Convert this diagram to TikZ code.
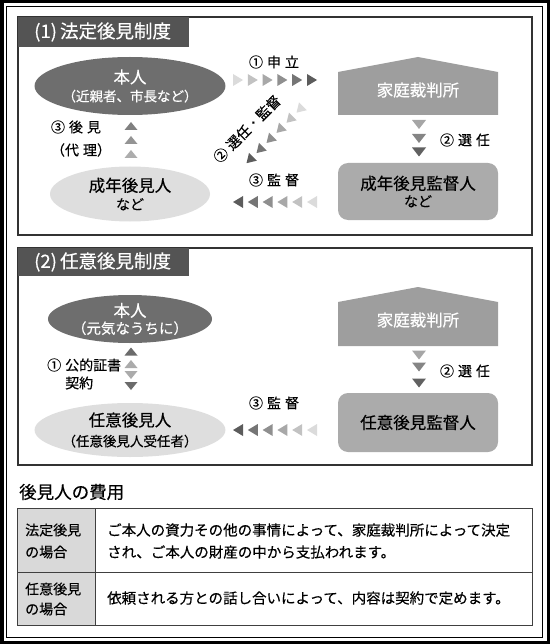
\documentclass[tikz,border=0pt]{standalone}
\usepackage{fontspec}
\setmainfont{Noto Sans CJK JP}[FakeBold=0.35]
\usetikzlibrary{shapes.geometric}
\newcommand{\lue}{\hspace{4pt}}

\begin{document}
\begin{tikzpicture}[x=1pt,y=-1pt,
    rahmen/.style={draw=black!80, line width=1.1pt},
    reiter/.style={text=white, anchor=west, inner sep=0pt, font=\fontsize{18.5}{20}\selectfont},
    person/.style={ellipse, minimum width=160pt, inner sep=0pt, align=center},
    gericht/.style={text=white, inner sep=0pt, font=\fontsize{16.5}{18}\selectfont},
    aufsicht/.style={rounded corners=10pt, fill=black!33, minimum width=160pt, align=center, inner sep=0pt},
    beschr/.style={inner sep=0pt, font=\fontsize{14}{16}\selectfont},
    tabtext/.style={anchor=west, align=left, inner sep=0pt, font=\fontsize{14.5}{22}\selectfont}]
    \useasboundingbox (0,0) rectangle (550,644);
    % Rahmen:
    \draw[line width=3.5pt] (1.75,1.75) rectangle (548.25,642.25);
    \draw[line width=0.9pt] (6.5,6.5) rectangle (542.5,637.5);

    % (1) Abschnitt:
    \draw[rahmen] (18,17) rectangle (532,235);
    \fill[black!67] (18,17) rectangle (189,47);
    \node[reiter] (titel1) at (34,32) {(1)\,法定後見制度};
    \node[person, fill=black!57, text=white, minimum height=58pt,
        font=\fontsize{13.5}{18}\selectfont] (honin1) at (130,86)
        {{\fontsize{16.5}{18}\selectfont 本人}\\（近親者、市長など）};
    \node[person, fill=black!13, minimum height=55pt,
        font=\fontsize{14}{18}\selectfont] (kouken1) at (130,194)
        {{\fontsize{16.5}{18}\selectfont 成年後見人}\\など};
    \fill[black!38] (338,72) -- (418,57) -- (498,72) -- (498,115) -- (338,115) -- cycle;
    \node[gericht] (gericht1) at (418,90) {家庭裁判所};
    \node[aufsicht, minimum height=57pt, font=\fontsize{14}{17}\selectfont]
        (aufsicht1) at (418,191.5) {{\fontsize{16.5}{17}\selectfont 成年後見監督人}\\など};

    \node[beschr] (l1a) at (76,127) {③\lue 後\lue 見};
    \node[beschr] (l1b) at (81,150) {（代\lue 理）};
    \node[beschr] (l1c) at (274,62) {①\lue 申\lue 立};
    \node[beschr, rotate=45] (l1d) at (247,129) {②\lue 選任・監督};
    \node[beschr] (l1e) at (274,180) {③\lue 監\lue 督};
    \node[beschr] (l1f) at (465,140) {②\lue 選\lue 任};

    % Dreiecke:
    \foreach \i/\g in {0/14,1/24,2/34,3/44,4/54,5/64}
        \fill[black!\g] ({238+14.8*\i},80) ++(5,0) -- ++(-10,6) -- ++(0,-12) -- cycle;
    \foreach \i/\g in {0/64,1/54,2/44,3/34,4/24,5/14}
        \fill[black!\g] ({238+14.8*\i},202) ++(-5,0) -- ++(10,6) -- ++(0,-12) -- cycle;
    \foreach \i/\g in {0/64,1/54,2/44,3/34,4/24,5/14}
        \fill[black!\g, shift={({249.7+10*\i},{160-10.1*\i})}, rotate=225]
            (4.5,0) -- (-4.5,5.5) -- (-4.5,-5.5) -- cycle;
    \foreach \y/\g in {126/50,140/42,154/32}
        \fill[black!\g] (131,\y) ++(0,-4) -- ++(6.5,8) -- ++(-13,0) -- cycle;
    \foreach \y/\g in {124.5/35,138.5/48,152/62}
        \fill[black!\g] (419,\y) ++(0,4.5) -- ++(7,-9) -- ++(-14,0) -- cycle;

    % (2) Abschnitt:
    \draw[rahmen] (18,248) rectangle (532,465);
    \fill[black!67] (18,248) rectangle (189,276);
    \node[reiter] (titel2) at (34,262) {(2)\,任意後見制度};
    \node[person, fill=black!57, text=white, minimum height=48pt,
        font=\fontsize{14.5}{17}\selectfont] (honin2) at (130,319)
        {{\fontsize{16.5}{17}\selectfont 本人}\\（元気なうちに）};
    \node[person, fill=black!13, minimum height=54pt,
        font=\fontsize{13.5}{20}\selectfont] (ninni2) at (130,430)
        {{\fontsize{16.5}{20}\selectfont 任意後見人}\\（任意後見人受任者）};
    \fill[black!38] (338,302) -- (418,287) -- (498,302) -- (498,346) -- (338,346) -- cycle;
    \node[gericht] (gericht2) at (418,320) {家庭裁判所};
    \node[aufsicht, minimum height=59pt, font=\fontsize{16.5}{18}\selectfont]
        (aufsicht2) at (418,422.5) {任意後見監督人};

    \node[beschr, anchor=west] (l2a) at (47,365) {①\lue 公的証書};
    \node[beschr, anchor=west] (l2b) at (65,383) {契約};
    \node[beschr] (l2c) at (274,403) {③\lue 監\lue 督};
    \node[beschr] (l2d) at (465,371) {②\lue 選\lue 任};

    \foreach \i/\g in {0/64,1/54,2/44,3/34,4/24,5/14}
        \fill[black!\g] ({238+14.8*\i},430) ++(-5,0) -- ++(10,6) -- ++(0,-12) -- cycle;
    \foreach \y/\g in {351.5/58,364/33}
        \fill[black!\g] (131,\y) ++(0,-4) -- ++(6.5,8) -- ++(-13,0) -- cycle;
    \foreach \y/\g in {375/33,386/58}
        \fill[black!\g] (131,\y) ++(0,4) -- ++(6.5,-8) -- ++(-13,0) -- cycle;
    \foreach \y/\g in {355/35,367/48,383/62}
        \fill[black!\g] (419,\y) ++(0,4.5) -- ++(7,-9) -- ++(-14,0) -- cycle;

    % Kosten:
    \node[anchor=west, inner sep=0pt, font=\fontsize{17.5}{20}\selectfont] (kosten) at (19,492) {後見人の費用};
    \fill[black!15] (17,508) rectangle (95,625);
    \draw[black!75, line width=0.9pt] (17,508) rectangle (532,625)
        (17,572) -- (532,572) (95,508) -- (95,625);
    \node[tabtext, font=\fontsize{14}{22}\selectfont] (fall1) at (25,541) {法定後見\\の場合};
    \node[tabtext] (text1) at (107,541) {ご本人の資力その他の事情によって、家庭裁判所によって決定\\され、ご本人の財産の中から支払われます。};
    \node[tabtext, font=\fontsize{14}{20}\selectfont] (fall2) at (25,599) {任意後見\\の場合};
    \node[tabtext] (text2) at (107,598) {依頼される方との話し合いによって、内容は契約で定めます。};
\end{tikzpicture}
\end{document}
